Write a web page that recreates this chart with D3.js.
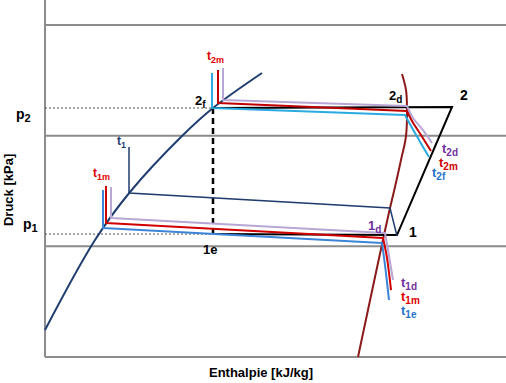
<!DOCTYPE html>
<html>
<head>
<meta charset="utf-8">
<script src="https://cdn.jsdelivr.net/npm/d3@7"></script>
<style>
  body { margin: 0; background: #fff; }
  svg { display: block; font-family: "Liberation Sans", Arial, sans-serif; font-weight: bold; }
</style>
</head>
<body>
<svg id="chart"></svg>
<script>
// enthalpy h [kJ/kg] and pressure level (log scale units, gridline every 1)
const gridLevels = [0, 1, 2, 3];

const satLiquid = [[150, 0.244], [175, 1.057], [192.5, 1.491], [218.5, 1.997], [234, 2.25], [258.5, 2.566]];
const satVapor = [[328.5, 2.557], [330.5, 2.413], [331, 2.25], [330.5, 1.997], [328, 1.78], [325, 1.536], [322.5, 1.346], [319.5, 1.102], [306.5, 0]];

const cycle = [[234, 2.25], [353.5, 2.259], [326, 1.102], [234, 1.111]];
const isenthalp = [[234, 2.25], [234, 1.111]];
const p2Line = [[150, 2.25], [234, 2.25]];
const p1Line = [[150, 1.111], [234, 1.111]];

const t1Line = [[192, 1.898], [192, 1.482], [322.5, 1.346], [326, 1.093]];

// condenser temperature lines: corner part + curved tail
const condPurple = [[239, 2.611], [239, 2.322], [331, 2.268], [334, 2.16], [339, 2.051], [343.5, 1.934]];
const condRed = [[236.5, 2.593], [236.5, 2.295], [331, 2.223], [333.5, 2.132], [338, 2.006], [343, 1.861]];
const condBlue = [[233.5, 2.566], [233.5, 2.25], [330, 2.187], [333, 2.087], [337, 1.961], [342, 1.807]];

// evaporator temperature lines
const evapPurple = [[183, 1.536], [183, 1.256], [320, 1.12], [321.5, 0.967], [324, 0.696]];
const evapRed = [[180.5, 1.545], [180.5, 1.211], [319, 1.075], [321, 0.895], [323, 0.605]];
const evapBlue = [[179, 1.509], [179, 1.166], [318.5, 1.03], [320, 0.831], [322, 0.515]];

const labels = [
  {t: "p", s: "2", h: 135.5, v: 2.155, c: "#000", f: 14},
  {t: "p", s: "1", h: 139, v: 1.157, c: "#000", f: 14},
  {t: "2", s: "f", h: 225, v: 2.277, c: "#000", f: 13},
  {t: "2", s: "d", h: 322, v: 2.322, c: "#000", f: 13},
  {t: "2", s: "", h: 357.5, v: 2.322, c: "#000", f: 14},
  {t: "1", s: "", h: 332, v: 1.084, c: "#000", f: 14},
  {t: "1", s: "d", h: 311.5, v: 1.148, c: "#7030a0", f: 13},
  {t: "1e", s: "", h: 229, v: 0.931, c: "#000", f: 13},
  {t: "t", s: "2m", h: 231, v: 2.684, c: "#e00000", f: 12},
  {t: "t", s: "2d", h: 348.5, v: 1.843, c: "#7030a0", f: 13},
  {t: "t", s: "2m", h: 347, v: 1.717, c: "#d00000", f: 13},
  {t: "t", s: "2f", h: 343.5, v: 1.626, c: "#1f73c8", f: 13},
  {t: "t", s: "1", h: 186, v: 1.916, c: "#1f3d6e", f: 12},
  {t: "t", s: "1m", h: 174, v: 1.626, c: "#e00000", f: 12},
  {t: "t", s: "1d", h: 328, v: 0.633, c: "#7030a0", f: 13},
  {t: "t", s: "1m", h: 328, v: 0.506, c: "#e00000", f: 13},
  {t: "t", s: "1e", h: 328, v: 0.38, c: "#1f73c8", f: 13}
];

const width = 506;
const height = 383;

const svg = d3.select("#chart")
  .attr("width", width)
  .attr("height", height);

const x = d3.scaleLinear().domain([150, 380.5]).range([45, 506]);
const y = d3.scaleLinear().domain([0, 3.226]).range([357, 0]);

const line = d3.line().x(d => x(d[0])).y(d => y(d[1]));
const smooth = d3.line().x(d => x(d[0])).y(d => y(d[1])).curve(d3.curveCatmullRom);

// grid
svg.append("g")
  .selectAll("line")
  .data(gridLevels)
  .enter()
  .append("line")
  .attr("x1", x(150))
  .attr("x2", x(380.5))
  .attr("y1", d => y(d))
  .attr("y2", d => y(d))
  .attr("stroke", "#8c8c8c")
  .attr("stroke-width", 2);

svg.append("line")
  .attr("x1", x(150)).attr("x2", x(150))
  .attr("y1", y(3.226)).attr("y2", y(0))
  .attr("stroke", "#8c8c8c")
  .attr("stroke-width", 2);

// pressure guides
[p2Line, p1Line].forEach(d => {
  svg.append("path")
    .attr("d", line(d))
    .attr("fill", "none")
    .attr("stroke", "#555")
    .attr("stroke-width", 1)
    .attr("stroke-dasharray", "2,2");
});

// saturation curves
svg.append("path")
  .attr("d", smooth(satLiquid))
  .attr("fill", "none")
  .attr("stroke", "#1f3d6e")
  .attr("stroke-width", 2);

svg.append("path")
  .attr("d", smooth(satVapor))
  .attr("fill", "none")
  .attr("stroke", "#8b1a1a")
  .attr("stroke-width", 2);

// cycle
svg.append("path")
  .attr("d", line(cycle))
  .attr("fill", "none")
  .attr("stroke", "#000")
  .attr("stroke-width", 2);

svg.append("path")
  .attr("d", line(isenthalp))
  .attr("fill", "none")
  .attr("stroke", "#000")
  .attr("stroke-width", 2.5)
  .attr("stroke-dasharray", "6,4");

// temperature lines
function tempLine(pts, corner, color, w) {
  svg.append("path")
    .attr("d", line(pts.slice(0, corner + 1)) + smooth(pts.slice(corner)).replace(/^M[^A-Za-z]*/, ""))
    .attr("fill", "none")
    .attr("stroke", color)
    .attr("stroke-width", w)
    .attr("stroke-linejoin", "round");
}

tempLine(condPurple, 2, "#b8a6d4", 2);
tempLine(condRed, 2, "#c00000", 2);
tempLine(condBlue, 2, "#29aae1", 2);

tempLine(evapPurple, 2, "#b8a6d4", 2);
tempLine(evapRed, 2, "#d00000", 2);
tempLine(evapBlue, 2, "#3b84d8", 2);

svg.append("path")
  .attr("d", line(t1Line))
  .attr("fill", "none")
  .attr("stroke", "#1f3d6e")
  .attr("stroke-width", 1.5);

// labels
const lab = svg.append("g")
  .selectAll("text")
  .data(labels)
  .enter()
  .append("text")
  .attr("x", d => x(d.h))
  .attr("y", d => y(d.v))
  .attr("fill", d => d.c)
  .attr("font-size", d => d.f);

lab.append("tspan").text(d => d.t);
lab.append("tspan")
  .attr("dy", 3)
  .attr("font-size", d => Math.round(d.f * 0.75))
  .text(d => d.s);

// axis titles
svg.append("text")
  .attr("x", 261)
  .attr("y", 377)
  .attr("text-anchor", "middle")
  .attr("font-size", 13)
  .text("Enthalpie [kJ/kg]");

svg.append("text")
  .attr("transform", `translate(13, ${y(1.51)}) rotate(-90)`)
  .attr("text-anchor", "middle")
  .attr("font-size", 13)
  .text("Druck [kPa]");
</script>
</body>
</html>
